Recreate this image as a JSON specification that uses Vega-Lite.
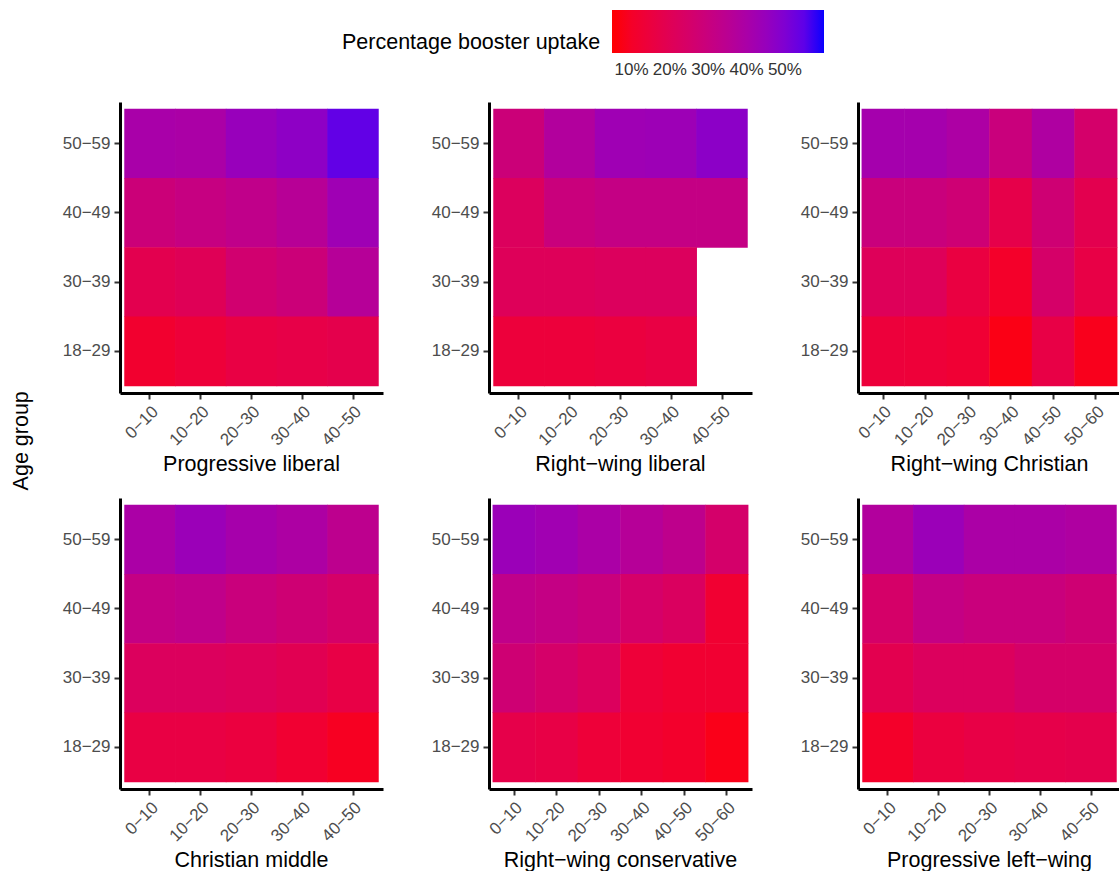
{
  "$schema": "https://vega.github.io/schema/vega-lite/v6.json",
  "padding": {"left": 10, "top": 10, "right": 0, "bottom": 0},
  "background": "white",
  "title": {"text": "Age group", "orient": "left", "anchor": "middle", "fontSize": 21.5, "font": "Liberation Sans", "fontWeight": "normal", "color": "black", "offset": 30},
  "data": {"values": [
    {"party": "Progressive liberal", "share": "0−10", "age": "50−59", "uptake": 40.3},
    {"party": "Progressive liberal", "share": "10−20", "age": "50−59", "uptake": 39.7},
    {"party": "Progressive liberal", "share": "20−30", "age": "50−59", "uptake": 44.7},
    {"party": "Progressive liberal", "share": "30−40", "age": "50−59", "uptake": 46.9},
    {"party": "Progressive liberal", "share": "40−50", "age": "50−59", "uptake": 54.5},
    {"party": "Progressive liberal", "share": "0−10", "age": "40−49", "uptake": 28.7},
    {"party": "Progressive liberal", "share": "10−20", "age": "40−49", "uptake": 30.9},
    {"party": "Progressive liberal", "share": "20−30", "age": "40−49", "uptake": 33.0},
    {"party": "Progressive liberal", "share": "30−40", "age": "40−49", "uptake": 35.9},
    {"party": "Progressive liberal", "share": "40−50", "age": "40−49", "uptake": 43.0},
    {"party": "Progressive liberal", "share": "0−10", "age": "30−39", "uptake": 18.7},
    {"party": "Progressive liberal", "share": "10−20", "age": "30−39", "uptake": 20.4},
    {"party": "Progressive liberal", "share": "20−30", "age": "30−39", "uptake": 26.5},
    {"party": "Progressive liberal", "share": "30−40", "age": "30−39", "uptake": 28.7},
    {"party": "Progressive liberal", "share": "40−50", "age": "30−39", "uptake": 36.4},
    {"party": "Progressive liberal", "share": "0−10", "age": "18−29", "uptake": 11.5},
    {"party": "Progressive liberal", "share": "10−20", "age": "18−29", "uptake": 13.7},
    {"party": "Progressive liberal", "share": "20−30", "age": "18−29", "uptake": 16.0},
    {"party": "Progressive liberal", "share": "30−40", "age": "18−29", "uptake": 17.0},
    {"party": "Progressive liberal", "share": "40−50", "age": "18−29", "uptake": 18.0},

    {"party": "Right−wing liberal", "share": "0−10", "age": "50−59", "uptake": 28.7},
    {"party": "Right−wing liberal", "share": "10−20", "age": "50−59", "uptake": 37.5},
    {"party": "Right−wing liberal", "share": "20−30", "age": "50−59", "uptake": 43.0},
    {"party": "Right−wing liberal", "share": "30−40", "age": "50−59", "uptake": 43.5},
    {"party": "Right−wing liberal", "share": "40−50", "age": "50−59", "uptake": 47.5},
    {"party": "Right−wing liberal", "share": "0−10", "age": "40−49", "uptake": 22.0},
    {"party": "Right−wing liberal", "share": "10−20", "age": "40−49", "uptake": 29.5},
    {"party": "Right−wing liberal", "share": "20−30", "age": "40−49", "uptake": 31.5},
    {"party": "Right−wing liberal", "share": "30−40", "age": "40−49", "uptake": 31.5},
    {"party": "Right−wing liberal", "share": "40−50", "age": "40−49", "uptake": 31.5},
    {"party": "Right−wing liberal", "share": "0−10", "age": "30−39", "uptake": 21.0},
    {"party": "Right−wing liberal", "share": "10−20", "age": "30−39", "uptake": 21.0},
    {"party": "Right−wing liberal", "share": "20−30", "age": "30−39", "uptake": 22.0},
    {"party": "Right−wing liberal", "share": "30−40", "age": "30−39", "uptake": 22.0},
    {"party": "Right−wing liberal", "share": "0−10", "age": "18−29", "uptake": 14.0},
    {"party": "Right−wing liberal", "share": "10−20", "age": "18−29", "uptake": 14.0},
    {"party": "Right−wing liberal", "share": "20−30", "age": "18−29", "uptake": 15.0},
    {"party": "Right−wing liberal", "share": "30−40", "age": "18−29", "uptake": 16.0},

    {"party": "Right−wing Christian", "share": "0−10", "age": "50−59", "uptake": 41.4},
    {"party": "Right−wing Christian", "share": "10−20", "age": "50−59", "uptake": 41.4},
    {"party": "Right−wing Christian", "share": "20−30", "age": "50−59", "uptake": 39.2},
    {"party": "Right−wing Christian", "share": "30−40", "age": "50−59", "uptake": 29.5},
    {"party": "Right−wing Christian", "share": "40−50", "age": "50−59", "uptake": 38.4},
    {"party": "Right−wing Christian", "share": "50−60", "age": "50−59", "uptake": 25.2},
    {"party": "Right−wing Christian", "share": "0−10", "age": "40−49", "uptake": 29.5},
    {"party": "Right−wing Christian", "share": "10−20", "age": "40−49", "uptake": 29.5},
    {"party": "Right−wing Christian", "share": "20−30", "age": "40−49", "uptake": 27.7},
    {"party": "Right−wing Christian", "share": "30−40", "age": "40−49", "uptake": 17.5},
    {"party": "Right−wing Christian", "share": "40−50", "age": "40−49", "uptake": 27.5},
    {"party": "Right−wing Christian", "share": "50−60", "age": "40−49", "uptake": 18.7},
    {"party": "Right−wing Christian", "share": "0−10", "age": "30−39", "uptake": 21.0},
    {"party": "Right−wing Christian", "share": "10−20", "age": "30−39", "uptake": 21.0},
    {"party": "Right−wing Christian", "share": "20−30", "age": "30−39", "uptake": 15.5},
    {"party": "Right−wing Christian", "share": "30−40", "age": "30−39", "uptake": 10.4},
    {"party": "Right−wing Christian", "share": "40−50", "age": "30−39", "uptake": 24.8},
    {"party": "Right−wing Christian", "share": "50−60", "age": "30−39", "uptake": 16.5},
    {"party": "Right−wing Christian", "share": "0−10", "age": "18−29", "uptake": 14.0},
    {"party": "Right−wing Christian", "share": "10−20", "age": "18−29", "uptake": 13.5},
    {"party": "Right−wing Christian", "share": "20−30", "age": "18−29", "uptake": 12.5},
    {"party": "Right−wing Christian", "share": "30−40", "age": "18−29", "uptake": 7.0},
    {"party": "Right−wing Christian", "share": "40−50", "age": "18−29", "uptake": 16.5},
    {"party": "Right−wing Christian", "share": "50−60", "age": "18−29", "uptake": 8.0},

    {"party": "Christian middle", "share": "0−10", "age": "50−59", "uptake": 39.7},
    {"party": "Christian middle", "share": "10−20", "age": "50−59", "uptake": 44.0},
    {"party": "Christian middle", "share": "20−30", "age": "50−59", "uptake": 41.0},
    {"party": "Christian middle", "share": "30−40", "age": "50−59", "uptake": 39.0},
    {"party": "Christian middle", "share": "40−50", "age": "50−59", "uptake": 34.0},
    {"party": "Christian middle", "share": "0−10", "age": "40−49", "uptake": 31.5},
    {"party": "Christian middle", "share": "10−20", "age": "40−49", "uptake": 33.0},
    {"party": "Christian middle", "share": "20−30", "age": "40−49", "uptake": 29.5},
    {"party": "Christian middle", "share": "30−40", "age": "40−49", "uptake": 27.5},
    {"party": "Christian middle", "share": "40−50", "age": "40−49", "uptake": 24.8},
    {"party": "Christian middle", "share": "0−10", "age": "30−39", "uptake": 22.0},
    {"party": "Christian middle", "share": "10−20", "age": "30−39", "uptake": 22.0},
    {"party": "Christian middle", "share": "20−30", "age": "30−39", "uptake": 21.0},
    {"party": "Christian middle", "share": "30−40", "age": "30−39", "uptake": 19.5},
    {"party": "Christian middle", "share": "40−50", "age": "30−39", "uptake": 16.5},
    {"party": "Christian middle", "share": "0−10", "age": "18−29", "uptake": 16.0},
    {"party": "Christian middle", "share": "10−20", "age": "18−29", "uptake": 16.0},
    {"party": "Christian middle", "share": "20−30", "age": "18−29", "uptake": 15.0},
    {"party": "Christian middle", "share": "30−40", "age": "18−29", "uptake": 12.0},
    {"party": "Christian middle", "share": "40−50", "age": "18−29", "uptake": 9.0},

    {"party": "Right−wing conservative", "share": "0−10", "age": "50−59", "uptake": 44.0},
    {"party": "Right−wing conservative", "share": "10−20", "age": "50−59", "uptake": 42.5},
    {"party": "Right−wing conservative", "share": "20−30", "age": "50−59", "uptake": 39.7},
    {"party": "Right−wing conservative", "share": "30−40", "age": "50−59", "uptake": 36.4},
    {"party": "Right−wing conservative", "share": "40−50", "age": "50−59", "uptake": 33.5},
    {"party": "Right−wing conservative", "share": "50−60", "age": "50−59", "uptake": 25.2},
    {"party": "Right−wing conservative", "share": "0−10", "age": "40−49", "uptake": 33.0},
    {"party": "Right−wing conservative", "share": "10−20", "age": "40−49", "uptake": 31.5},
    {"party": "Right−wing conservative", "share": "20−30", "age": "40−49", "uptake": 29.5},
    {"party": "Right−wing conservative", "share": "30−40", "age": "40−49", "uptake": 25.0},
    {"party": "Right−wing conservative", "share": "40−50", "age": "40−49", "uptake": 22.5},
    {"party": "Right−wing conservative", "share": "50−60", "age": "40−49", "uptake": 12.0},
    {"party": "Right−wing conservative", "share": "0−10", "age": "30−39", "uptake": 27.5},
    {"party": "Right−wing conservative", "share": "10−20", "age": "30−39", "uptake": 25.0},
    {"party": "Right−wing conservative", "share": "20−30", "age": "30−39", "uptake": 22.0},
    {"party": "Right−wing conservative", "share": "30−40", "age": "30−39", "uptake": 13.5},
    {"party": "Right−wing conservative", "share": "40−50", "age": "30−39", "uptake": 12.0},
    {"party": "Right−wing conservative", "share": "50−60", "age": "30−39", "uptake": 12.0},
    {"party": "Right−wing conservative", "share": "0−10", "age": "18−29", "uptake": 17.5},
    {"party": "Right−wing conservative", "share": "10−20", "age": "18−29", "uptake": 16.5},
    {"party": "Right−wing conservative", "share": "20−30", "age": "18−29", "uptake": 13.5},
    {"party": "Right−wing conservative", "share": "30−40", "age": "18−29", "uptake": 12.0},
    {"party": "Right−wing conservative", "share": "40−50", "age": "18−29", "uptake": 10.8},
    {"party": "Right−wing conservative", "share": "50−60", "age": "18−29", "uptake": 7.5},

    {"party": "Progressive left−wing", "share": "0−10", "age": "50−59", "uptake": 37.5},
    {"party": "Progressive left−wing", "share": "10−20", "age": "50−59", "uptake": 44.0},
    {"party": "Progressive left−wing", "share": "20−30", "age": "50−59", "uptake": 39.7},
    {"party": "Progressive left−wing", "share": "30−40", "age": "50−59", "uptake": 39.7},
    {"party": "Progressive left−wing", "share": "40−50", "age": "50−59", "uptake": 38.5},
    {"party": "Progressive left−wing", "share": "0−10", "age": "40−49", "uptake": 24.8},
    {"party": "Progressive left−wing", "share": "10−20", "age": "40−49", "uptake": 31.5},
    {"party": "Progressive left−wing", "share": "20−30", "age": "40−49", "uptake": 29.5},
    {"party": "Progressive left−wing", "share": "30−40", "age": "40−49", "uptake": 29.5},
    {"party": "Progressive left−wing", "share": "40−50", "age": "40−49", "uptake": 27.5},
    {"party": "Progressive left−wing", "share": "0−10", "age": "30−39", "uptake": 18.7},
    {"party": "Progressive left−wing", "share": "10−20", "age": "30−39", "uptake": 22.0},
    {"party": "Progressive left−wing", "share": "20−30", "age": "30−39", "uptake": 22.0},
    {"party": "Progressive left−wing", "share": "30−40", "age": "30−39", "uptake": 24.8},
    {"party": "Progressive left−wing", "share": "40−50", "age": "30−39", "uptake": 24.8},
    {"party": "Progressive left−wing", "share": "0−10", "age": "18−29", "uptake": 10.4},
    {"party": "Progressive left−wing", "share": "10−20", "age": "18−29", "uptake": 15.0},
    {"party": "Progressive left−wing", "share": "20−30", "age": "18−29", "uptake": 16.5},
    {"party": "Progressive left−wing", "share": "30−40", "age": "18−29", "uptake": 17.5},
    {"party": "Progressive left−wing", "share": "40−50", "age": "18−29", "uptake": 18.0}
  ]},
  "facet": {
    "field": "party", "type": "nominal",
    "sort": ["Progressive liberal", "Right−wing liberal", "Right−wing Christian", "Christian middle", "Right−wing conservative", "Progressive left−wing"],
    "header": {"title": null, "labelOrient": "bottom", "labelFont": "Liberation Sans", "labelFontSize": 21.5, "labelColor": "black", "labelPadding": 6}
  },
  "columns": 3,
  "spacing": {"column": 48, "row": 22},
  "resolve": {"scale": {"x": "independent"}, "axis": {"x": "independent", "y": "independent"}},
  "spec": {
    "width": 263,
    "height": 291,
    "mark": {"type": "rect", "width": {"band": 1.012}, "height": {"band": 1.008}},
    "encoding": {
      "x": {"field": "share", "type": "ordinal", "sort": ["0−10", "10−20", "20−30", "30−40", "40−50", "50−60"],
        "scale": {"paddingInner": 0, "paddingOuter": 0.09},
        "axis": {"title": null, "labelAngle": -45, "labelAlign": "right", "labelBaseline": "top"}},
      "y": {"field": "age", "type": "ordinal",
        "scale": {"domain": ["50−59", "40−49", "30−39", "18−29"], "paddingInner": 0, "paddingOuter": 0.1},
        "axis": {"title": null}},
      "color": {"field": "uptake", "type": "quantitative",
        "scale": {"domain": [4.9, 60.2], "range": ["#ff0000", "#0000ff"], "interpolate": "lab"},
        "legend": {"type": "gradient", "title": "Percentage booster uptake", "orient": "none", "legendX": 222, "legendY": -92, "direction": "horizontal",
          "gradientLength": 212, "gradientThickness": 43, "values": [10, 20, 30, 40, 50], "labelExpr": "datum.value + '%'",
          "titleOrient": "left", "titleAnchor": "middle", "titleBaseline": "top", "titleFontSize": 21.5, "titleFont": "Liberation Sans", "titleFontWeight": "normal", "titleColor": "black", "titlePadding": 11, "titleLimit": 400,
          "labelFontSize": 17, "labelFont": "Liberation Sans", "labelColor": "#333333", "labelOffset": 9, "labelOverlap": false}}
    }
  },
  "config": {
    "view": {"stroke": null},
    "axis": {"domainColor": "black", "domainWidth": 3, "tickColor": "#333333", "tickWidth": 2, "tickSize": 6, "labelFont": "Liberation Sans", "labelFontSize": 17, "labelColor": "#4d4d4d", "labelPadding": 4, "grid": false}
  }
}
